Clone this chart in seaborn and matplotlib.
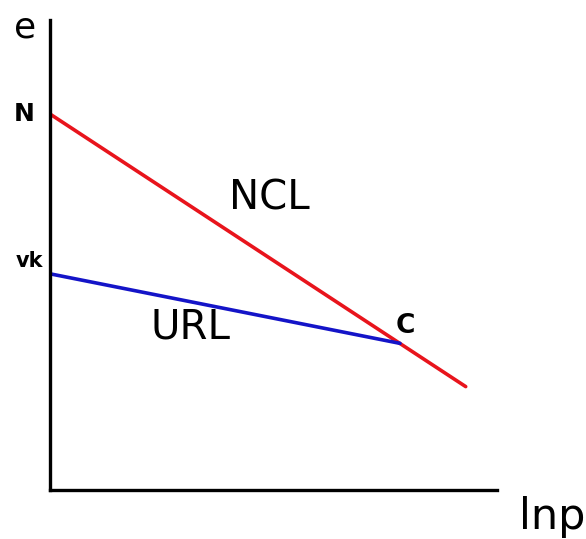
import matplotlib
matplotlib.use("Agg")
import matplotlib.pyplot as plt
import seaborn as sns
import pandas as pd

# Normal compression line (NCL) and unloading-reloading line (URL) in e - ln p space
ncl_lnp = [0.0, 9.3]
ncl_e = [8.0, 2.2]
url_lnp = [0.0, 7.83]
url_e = [4.6, 3.12]

line_names = ["NCL", "URL"]
line_colors = ["#e8141c", "#1414c8"]

df = pd.DataFrame({
    "lnp": ncl_lnp + url_lnp,
    "e": ncl_e + url_e,
    "line": [line_names[0]] * len(ncl_lnp) + [line_names[1]] * len(url_lnp),
})

sns.set_style("white")
plt.rcParams["font.family"] = ["DejaVu Sans"]

fig = plt.figure(figsize=(5.86, 5.39), dpi=100)
ax = fig.add_axes([50 / 586, 49 / 539, 447 / 586, 470 / 539])

sns.lineplot(data=df, x="lnp", y="e", hue="line", palette=line_colors,
             linewidth=2.6, legend=False, ax=ax, sort=False)

ax.set_xlim(0, 10)
ax.set_ylim(0, 10)
ax.set_xticks([])
ax.set_yticks([])
ax.set_xlabel("")
ax.set_ylabel("")
for side in ("top", "right"):
    ax.spines[side].set_visible(False)
for side in ("left", "bottom"):
    ax.spines[side].set_color("black")
    ax.spines[side].set_linewidth(2.4)

txt = dict(ha="center", va="center", color="black", clip_on=False)
ax.text(-0.56, 9.85, "e", fontsize=26, **txt)
ax.text(-0.58, 8.0, "N", fontsize=18, fontweight="bold", **txt)
ax.text(-0.47, 4.87, "vk", fontsize=15, fontweight="bold", **txt)
ax.text(4.9, 6.2, "NCL", fontsize=29, **txt)
ax.text(3.15, 3.45, "URL", fontsize=29, **txt)
ax.text(7.96, 3.48, "C", fontsize=19, fontweight="bold", **txt)
ax.text(11.23, -0.57, "lnp", fontsize=31, **txt)

fig.savefig("out.png", dpi=100)
